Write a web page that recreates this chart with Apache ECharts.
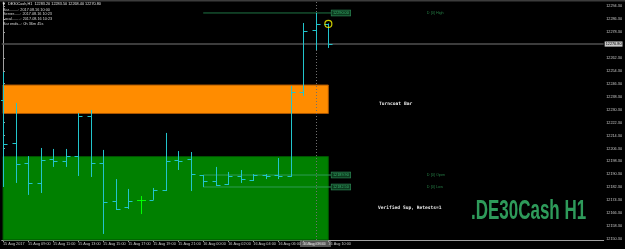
<!DOCTYPE html>
<html>
<head>
<meta charset="utf-8">
<script src="https://cdn.jsdelivr.net/npm/echarts@6/dist/echarts.min.js"></script>
<style>html,body{margin:0;padding:0;background:#000;}#c{width:625px;height:249px;}</style>
</head>
<body>
<div id="c"></div>
<script>
// ---- data (H1 bars, 15 Aug 07:00 .. 16 Aug 10:00) ----
const opens  = [12236.2,12209.7,12197.3,12185.0,12199.8,12198.6,12201.6,12226.4,12197.3,12173.9,12170.2,12174.5,12174.5,12180.7,12199.2,12199.8,12189.9,12186.2,12184.4,12189.3,12186.8,12189.9,12189.9,12189.3,12241.2,12279.5,12283.2];
const highs  = [12253.5,12234.4,12201.6,12206.6,12206.0,12206.0,12228.2,12230.1,12205.4,12187.4,12181.3,12176.9,12181.9,12215.9,12204.7,12204.1,12189.9,12194.9,12191.8,12193.0,12190.5,12190.5,12200.4,12244.9,12283.8,12290.0,12283.5];
const lows   = [12182.5,12185.0,12177.6,12178.8,12194.9,12194.9,12189.3,12188.7,12153.5,12168.3,12168.9,12165.8,12174.5,12180.0,12193.0,12180.0,12182.5,12183.1,12183.7,12185.0,12186.2,12187.4,12187.4,12188.7,12238.7,12267.1,12268.4];
const closes = [12209.1,12196.7,12185.0,12199.2,12198.6,12201.6,12226.4,12197.3,12173.2,12168.9,12173.9,12174.5,12180.7,12198.6,12198.6,12190.5,12186.2,12183.7,12189.3,12187.4,12189.9,12189.3,12189.6,12241.2,12278.9,12283.2,12270.8];
const timeTickIdx = [0,2,4,6,8,10,12,14,16,18,20,22,24,26];
const timeLabels = ["15 Aug 2017","15 Aug 09:00","15 Aug 11:00","15 Aug 13:00","15 Aug 15:00","15 Aug 17:00","15 Aug 19:00","15 Aug 21:00","16 Aug 00:00","16 Aug 02:00","16 Aug 04:00","16 Aug 06:00","16 Aug 08:00","16 Aug 10:00"];
const priceTicks = [12294.3,12286.3,12278.3,12262.3,12254.3,12246.3,12238.3,12230.3,12222.3,12214.3,12206.3,12198.3,12190.3,12182.3,12174.3,12166.3,12158.3,12150.3];
const turncoatZone = [12245.5, 12227.9];
const supportZone = [12201.3, 12149.8];
const dayStartIdx = 16;
const dayLineNames = ["D [0] High","D [0] Open","D [0] Low"];

// ---- derived ----
const last = closes.length - 1;
const dayHigh = Math.max(...highs.slice(dayStartIdx));
const dayLow = Math.min(...lows.slice(dayStartIdx));
const dayOpen = opens[dayStartIdx];
const dayVals = [dayHigh, dayOpen, dayLow];
const lineEnd = 26.25, nameX = 33.87;

const chart = echarts.init(document.getElementById('c'), null, {renderer:'canvas'});
const tiny = 3.8;
const boxLabel = {show:true, position:'right', distance:0, fontSize:tiny, fontFamily:'Liberation Sans',
  color:'#3cb371', backgroundColor:'#0c3a1e', borderColor:'#2e8b57', borderWidth:0.6, padding:[0.6,1.5],
  formatter: p => p.value[1].toFixed(2)};

const dayLineSeries = dayVals.map((v,k)=>({
  type:'line', z:4, silent:true, symbol:'circle', symbolSize:0, showSymbol:true,
  lineStyle:{color: k===0 ? '#1f7444' : '#2e9a55', width:1},
  data:[[dayStartIdx, v], {value:[lineEnd, v], label:boxLabel}],
  animation:false
}));

const option = {
  backgroundColor:'#000',
  animation:false,
  grid:{left:0, right:19, top:2, bottom:9},
  xAxis:{type:'value', min:-0.1, max:48,
    axisLine:{show:true, lineStyle:{color:'#a0a0a0', width:1}},
    axisTick:{show:true, length:2, customValues:timeTickIdx, lineStyle:{color:'#a0a0a0'}},
    axisLabel:{customValues:timeTickIdx, align:'left', margin:1.5, fontSize:tiny, color:'#c8c8c8',
      fontFamily:'Liberation Sans', formatter: v => timeLabels[timeTickIdx.indexOf(Math.round(v))] || ''},
    splitLine:{show:false}},
  yAxis:{type:'value', position:'right', min:12149.76, max:12296.77, scale:true,
    axisLine:{show:true, lineStyle:{color:'#a0a0a0', width:1}},
    axisTick:{show:true, length:2, customValues:priceTicks, lineStyle:{color:'#a0a0a0'}},
    axisLabel:{customValues:priceTicks, margin:2.5, fontSize:tiny, color:'#c8c8c8', fontFamily:'Liberation Sans',
      formatter: v => v.toFixed(2)},
    splitLine:{show:false}},
  series:[
    {type:'line', z:1, silent:true, data:[],
      markArea:{silent:true, label:{show:false}, data:[
        [{xAxis:0, yAxis:turncoatZone[0], itemStyle:{color:'#ff8c00', borderColor:'#a85400', borderWidth:1}}, {xAxis:26, yAxis:turncoatZone[1]}],
        [{xAxis:0, yAxis:supportZone[0], itemStyle:{color:'#008000', borderColor:'#005400', borderWidth:1}}, {xAxis:26, yAxis:supportZone[1]}]
      ]}},
    {type:'line', z:2, silent:true, data:[],
      markLine:{silent:true, symbol:['none','none'], animation:false, data:[
        {xAxis:25, lineStyle:{color:'#707070', type:[1,2], width:1}, label:{show:false}},
        {yAxis:closes[last], lineStyle:{color:'#505050', type:'solid', width:1.5},
          label:{show:true, position:'end', distance:1, fontSize:tiny, color:'#000', backgroundColor:'#c8c8c8',
            padding:[0.6,1], fontFamily:'Liberation Sans', formatter: p => p.value.toFixed(2)}}
      ]}},
    ...dayLineSeries,
    {type:'scatter', z:4, silent:true, symbolSize:0,
      data: dayVals.map((v,k)=>[nameX, v, dayLineNames[k]]),
      label:{show:true, position:'right', distance:0, fontSize:tiny, color:'#2e9a55', fontFamily:'Liberation Sans',
        formatter: p => p.data[2]}},
    {type:'custom', z:5, silent:true, clip:true,
      data: opens.map((o,i)=>[i, o, highs[i], lows[i], closes[i]]),
      encode:{x:0, y:[1,2,3,4]},
      renderItem:(params, api)=>{
        const i = api.value(0), o = api.value(1), h = api.value(2), l = api.value(3), c = api.value(4);
        const pH = api.coord([i,h]), pL = api.coord([i,l]), pO = api.coord([i,o]), pC = api.coord([i,c]);
        const x = Math.round(pH[0]) + 0.5;
        const doji = o === c;
        const col = doji ? '#00ff00' : '#22c4cc';
        const t = doji ? 4.5 : 4;
        const yo = Math.round(pO[1]) + 0.5, yc = Math.round(pC[1]) + 0.5;
        return {type:'group', children:[
          {type:'line', shape:{x1:x, y1:pH[1], x2:x, y2:pL[1]}, style:{stroke:col, lineWidth:1}},
          {type:'line', shape:{x1:x - t, y1:yo, x2:x, y2:yo}, style:{stroke:col, lineWidth:1}},
          {type:'line', shape:{x1:x, y1:yc, x2:x + t, y2:yc}, style:{stroke:col, lineWidth:1}}
        ]};
      }},
    {type:'scatter', z:6, silent:true, symbol:'circle', symbolSize:7,
      data:[[last, opens[last]]],
      itemStyle:{color:'rgba(0,0,0,0)', borderColor:'#ffff00', borderWidth:1.2}}
  ],
  graphic:[
    {type:'rect', z:10, shape:{x:0, y:0, width:625, height:1.6}, style:{fill:'#3c3c3c'}},
    {type:'text', z:10, x:2.5, y:2, style:{text:'▼', fontSize:3.5, fontFamily:'DejaVu Sans', fill:'#e0e0e0'}},
    {type:'text', z:10, x:8, y:2.2, style:{text:'DE30Cash,H1  ' + [opens[last], highs[last], lows[last], closes[last]].map(v=>v.toFixed(2)).join(' '),
      fontSize:tiny, fontFamily:'Liberation Sans', fill:'#e0e0e0'}},
    {type:'text', z:10, x:3, y:8, style:{text:'Bar.........: 2017.08.16 10:00', fontSize:tiny, fontFamily:'Liberation Sans', fill:'#d8d8d8'}},
    {type:'text', z:10, x:3, y:12.2, style:{text:'Server......: 2017.08.16 10:23', fontSize:tiny, fontFamily:'Liberation Sans', fill:'#d8d8d8'}},
    {type:'text', z:10, x:3, y:16.5, style:{text:'Local........: 2017.08.16 10:23', fontSize:tiny, fontFamily:'Liberation Sans', fill:'#d8d8d8'}},
    {type:'text', z:10, x:3, y:21.7, style:{text:'Bar ends...: 0h 36m 45s', fontSize:tiny, fontFamily:'Liberation Sans', fill:'#d8d8d8'}},
    {type:'text', z:10, x:379, y:101, style:{text:'Turncoat Bar', fontSize:4.6, fontFamily:'DejaVu Sans Mono', fontWeight:'bold', fill:'#e8e8e8'}},
    {type:'text', z:10, x:378, y:205.5, style:{text:'Verified Sup, Retests=1', fontSize:4.6, fontFamily:'DejaVu Sans Mono', fontWeight:'bold', fill:'#e8e8e8'}},
    {type:'text', z:10, x:471, y:198, scaleX:0.62, style:{text:'.DE30Cash H1', fontSize:27.4, fontWeight:'bold', fontFamily:'Liberation Sans', fill:'#2e9a5a'}},
    {type:'group', z:10, x:300, y:241, children:[
      {type:'rect', shape:{x:0, y:0, width:31, height:6}, style:{fill:'#555555'}},
      {type:'text', x:2, y:1, style:{text:'16 Aug 09:00', fontSize:tiny, fontFamily:'Liberation Sans', fill:'#bdbdbd'}}
    ]}
  ]
};
chart.setOption(option);
</script>
</body>
</html>
